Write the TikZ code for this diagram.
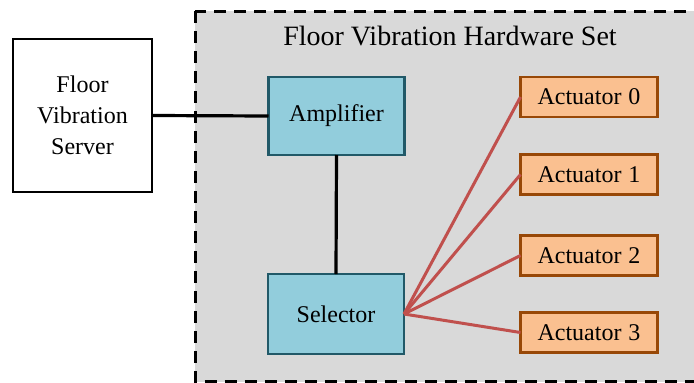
\documentclass[tikz,border=0pt]{standalone}
\usepackage{fontspec}
\setmainfont{Liberation Serif}
\usepackage{tikz}
\definecolor{setGray}{HTML}{D9D9D9}
\definecolor{blkFill}{HTML}{92CDDC}
\definecolor{blkLine}{HTML}{215968}
\definecolor{actFill}{HTML}{FAC090}
\definecolor{actLine}{HTML}{984807}
\definecolor{wireRed}{HTML}{C0504D}
\tikzset{
 server/.style = {draw=black, line width=2.5pt, fill=white, minimum width=139pt,
  minimum height=153pt, align=center, font=\fontsize{24}{31}\selectfont, outer sep=0pt},
 block/.style = {draw=blkLine, line width=2.5pt, fill=blkFill, minimum width=136pt,
  minimum height=78pt, font=\fontsize{24}{28}\selectfont, outer sep=0pt},
 actbox/.style = {draw=actLine, line width=2.5pt, fill=actFill, minimum width=137pt,
  minimum height=40pt, font=\fontsize{24}{28}\selectfont, outer sep=0pt},
 wire/.style = {draw=black, line width=3.2pt},
 redwire/.style = {draw=wireRed, line width=3pt}
}
\newcommand{\actuator}[2]{
    \node[actbox] (act#1) at (589, #2) {Actuator\hspace{7pt}#1};
    \draw[redwire] (sel.east) -- (act#1.west);
}
\begin{document}
\begin{tikzpicture}[x=1pt, y=-1pt]
    \useasboundingbox (0,0) rectangle (694,383);
    % hardware set frame
    \draw[line width=3pt, dash pattern=on 12pt off 8pt, fill=setGray]
        (195,11) rectangle (730,381.5);
    \node[font=\fontsize{28}{32}\selectfont] (title) at (450,36) {Floor Vibration Hardware Set};

    \node[server] (srv) at (82.5,115.5) {Floor\\Vibration\\Server};
    \node[block] (amp) at (336.5,116) {Amplifier};
    \node[block, minimum height=80pt] (sel) at (336,314) {Selector};

    \draw[wire] (srv.east) -- (amp.west);
    \draw[wire] (amp.south) -- (sel.north);

    \actuator{0}{97}
    \actuator{1}{174.5}
    \actuator{2}{255.5}
    \actuator{3}{332.5}
\end{tikzpicture}
\end{document}
